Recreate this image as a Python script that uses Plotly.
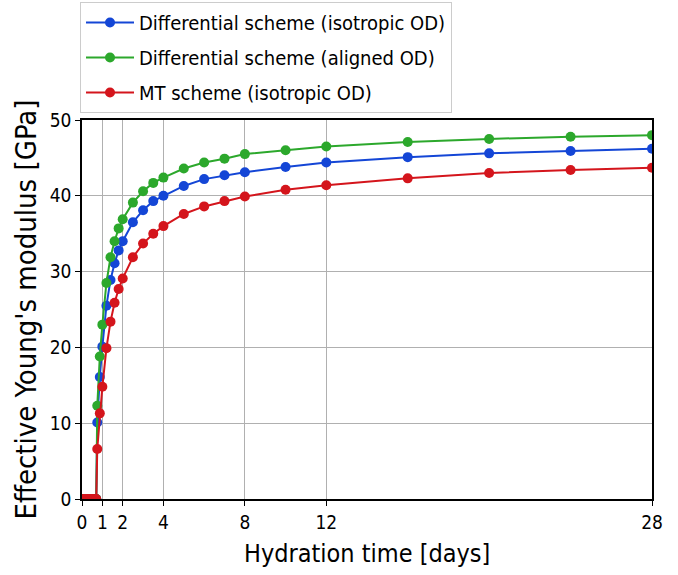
import plotly.graph_objects as go

time_days = [0, 0.1, 0.2, 0.3, 0.4, 0.5, 0.6, 0.7,
             0.75, 0.875, 1.0, 1.2, 1.4, 1.6, 1.8, 2.0, 2.5, 3, 3.5, 4,
             5, 6, 7, 8, 10, 12, 16, 20, 24, 28]
zeros = [0] * 8
diff_iso = zeros + [10.1, 16.1, 20.1, 25.5, 28.9, 31.1, 32.8, 34.0, 36.5, 38.1, 39.3, 40.0,
                    41.3, 42.2, 42.7, 43.1, 43.8, 44.4, 45.1, 45.6, 45.9, 46.2]
diff_aligned = zeros + [12.3, 18.8, 23.0, 28.5, 31.9, 34.0, 35.7, 36.9, 39.1, 40.6, 41.7, 42.4,
                        43.6, 44.4, 44.9, 45.5, 46.0, 46.5, 47.1, 47.5, 47.8, 48.0]
mt_iso = zeros + [6.6, 11.3, 14.8, 19.9, 23.4, 25.9, 27.7, 29.1, 31.9, 33.7, 35.0, 36.0,
                  37.6, 38.6, 39.3, 39.9, 40.8, 41.4, 42.3, 43.0, 43.4, 43.7]

x_ticks = [0, 1, 2, 4, 8, 12, 28]
y_ticks = [0, 10, 20, 30, 40, 50]

series = [
    ("Differential scheme (isotropic OD)", diff_iso, "#1446d6"),
    ("Differential scheme (aligned OD)", diff_aligned, "#2ca82c"),
    ("MT scheme (isotropic OD)", mt_iso, "#d4151c"),
]

fig = go.Figure()
for i, (name, vals, col) in enumerate(series):
    fig.add_trace(go.Scatter(
        x=time_days, y=vals, name=name, mode="lines+markers",
        legendgroup=f"g{i}",
        line=dict(color=col, width=2),
        marker=dict(color=col, size=10),
    ))

font = "DejaVu Sans Condensed, DejaVu Sans, sans-serif"
W, H = 678, 575
L, T = 82, 120
PW, PH = 570, 379
fig.update_layout(
    width=W, height=H,
    margin=dict(l=L, r=W - L - PW, t=T, b=H - T - PH, autoexpand=False),
    paper_bgcolor="white", plot_bgcolor="white",
    font=dict(family=font, size=19, color="black"),
    showlegend=True,
    legend=dict(
        x=-0.0035, y=(PH + T - 2) / PH, xanchor="left", yanchor="top",
        bgcolor="white", bordercolor="#cccccc", borderwidth=1,
        font=dict(size=20), tracegroupgap=6, itemwidth=48,
    ),
    xaxis=dict(
        range=[0, 28], tickvals=x_ticks, ticktext=[str(t) for t in x_ticks],
        showgrid=True, gridcolor="#b0b0b0", gridwidth=1,
        showline=True, linecolor="black", linewidth=1.5, mirror=True,
        ticks="outside", ticklen=5, tickcolor="black",
        zeroline=False, automargin=False,
    ),
    yaxis=dict(
        range=[0, 50], tickvals=y_ticks,
        showgrid=True, gridcolor="#b0b0b0", gridwidth=1,
        showline=True, linecolor="black", linewidth=1.5, mirror=True,
        ticks="outside", ticklen=5, tickcolor="black",
        zeroline=False, automargin=False,
    ),
    annotations=[
        dict(text="Hydration time [days]", x=0.5, y=0, xref="paper", yref="paper",
             xanchor="center", yanchor="middle", yshift=-54, showarrow=False,
             font=dict(size=25)),
        dict(text="Effective Young's modulus [GPa]", x=0, y=0.5, xref="paper", yref="paper",
             xanchor="center", yanchor="middle", xshift=-57, textangle=-90, showarrow=False,
             font=dict(size=29)),
    ],
)

# remove the default 8px page margin so the figure sits at the window's top-left corner
fig.write_html("out.html", config={"displayModeBar": False},
               post_script="document.body.style.margin='0px';")
